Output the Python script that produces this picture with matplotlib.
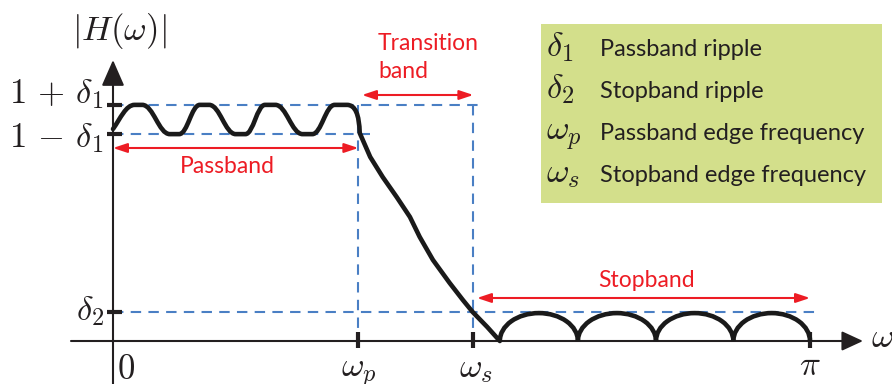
import numpy as np
import matplotlib.pyplot as plt
from matplotlib.path import Path
from matplotlib.patches import PathPatch, Arc, Rectangle

plt.rcParams['mathtext.fontset'] = 'cm'
plt.rcParams['font.family'] = ['Lato', 'DejaVu Sans']

# specs (frequency in units of pi, magnitude)
delta1 = 0.066
delta2 = 0.133
w_p = 0.352
w_s = 0.517

# passband ripple: ends of the flat tops / bottoms
pass_w = [0.0, 0.031, 0.042, 0.0815, 0.095, 0.1245, 0.138, 0.176, 0.190,
          0.218, 0.233, 0.272, 0.286, 0.318, 0.336]
pass_h = [0.957, 1.066, 1.066, 0.934, 0.934, 1.066, 1.066, 0.934, 0.934,
          1.066, 1.066, 0.934, 0.934, 1.066, 1.066]

# transition band
trans_w = [0.354, 0.369, 0.387, 0.407, 0.426, 0.440, 0.459, 0.483,
           0.502, 0.516, 0.537, 0.555]
trans_h = [0.939, 0.831, 0.740, 0.650, 0.560, 0.470, 0.366, 0.262,
           0.185, 0.131, 0.063, 0.0]

# stopband lobes
stop_zeros = [0.555, 0.667, 0.779, 0.890, 1.0]
stop_peak = 0.126

legend_sym = [r'$\delta_1$', r'$\delta_2$', r'$\omega_p$', r'$\omega_s$']
legend_txt = ['Passband ripple', 'Stopband ripple',
              'Passband edge frequency', 'Stopband edge frequency']

# pixel -> data helpers for placing labels
X0, XS = 113, 697
Y0, YS = 341, 221.5
def px(x):
    return (x - X0) / XS
def py(y):
    return (Y0 - y) / YS

black = '#231f20'
blue = '#4a7fc4'
red = '#ed1c24'

fig = plt.figure(figsize=(8.92, 3.84), dpi=100)
ax = fig.add_axes([0, 0, 1, 1])
ax.set_xlim(px(0), px(892))
ax.set_ylim(py(384), py(0))
ax.axis('off')

# dashed guide lines
dash = dict(color=blue, lw=1.5, ls=(0, (5, 3.5)), zorder=1)
ax.plot([0, px(483)], [1 + delta1, 1 + delta1], **dash)
ax.plot([0, px(370)], [1 - delta1, 1 - delta1], **dash)
ax.plot([0, px(820)], [delta2, delta2], **dash)
ax.plot([w_p, w_p], [1 + delta1, py(352)], **dash)
ax.plot([w_s, w_s], [1 + delta1, py(352)], **dash)

# axes with arrows
ax.annotate('', xy=(0, py(60)), xytext=(0, py(384)),
            arrowprops=dict(arrowstyle='-|>,head_length=0.8,head_width=0.35',
                            lw=1.5, color=black, shrinkA=0, shrinkB=0,
                            mutation_scale=20), zorder=2)
ax.annotate('', xy=(px(863), 0), xytext=(px(71), 0),
            arrowprops=dict(arrowstyle='-|>,head_length=0.65,head_width=0.3',
                            lw=1.5, color=black, shrinkA=0, shrinkB=0,
                            mutation_scale=20), zorder=2)

# tick bars
for yv in [1 + delta1, 1 - delta1, delta2]:
    ax.plot([px(107), px(122)], [yv, yv], color=black, lw=3, zorder=3,
            solid_capstyle='butt')
for xv in [w_p, w_s, 1.0]:
    ax.plot([xv, xv], [py(332), py(348)], color=black, lw=3, zorder=3,
            solid_capstyle='butt')

# response curve: passband (smooth steps) + transition
verts = [(pass_w[0], pass_h[0])]
codes = [Path.MOVETO]
for i in range(1, len(pass_w)):
    x0, y0 = pass_w[i - 1], pass_h[i - 1]
    x1, y1 = pass_w[i], pass_h[i]
    if y0 == y1:
        verts.append((x1, y1))
        codes.append(Path.LINETO)
    else:
        dx = x1 - x0
        if i == 1:
            c1 = (x0 + dx * 0.35, y0 + (y1 - y0) * 0.45)
        else:
            c1 = (x0 + dx * 0.4, y0)
        c2 = (x1 - dx * 0.4, y1)
        verts += [c1, c2, (x1, y1)]
        codes += [Path.CURVE4] * 3
# round shoulder into the transition band
verts += [(pass_w[-1] + 0.017, pass_h[-1]), (trans_w[0], trans_h[0])]
codes += [Path.CURVE3] * 2
for xv, yv in zip(trans_w[1:], trans_h[1:]):
    verts.append((xv, yv))
    codes.append(Path.LINETO)
ax.add_patch(PathPatch(Path(verts, codes), fill=False, lw=3.3, ec='#1a1a1a',
                       joinstyle='round', capstyle='round', zorder=4))

for z0, z1 in zip(stop_zeros[:-1], stop_zeros[1:]):
    ax.add_patch(Arc(((z0 + z1) / 2, 0), z1 - z0, 2 * stop_peak,
                     theta1=0, theta2=180, lw=3.3, color='#1a1a1a', zorder=4))

# red band arrows
def band_arrow(xa, xb, yv):
    ax.annotate('', xy=(xb, yv), xytext=(xa, yv),
                arrowprops=dict(arrowstyle='<|-|>,head_length=0.6,head_width=0.2',
                                lw=1.5, color=red, shrinkA=0, shrinkB=0,
                                mutation_scale=14), zorder=5)

band_arrow(0, w_p, py(148))
band_arrow(px(362), w_s, py(95))
band_arrow(px(477), 1.0, py(298))

fs_txt = 16.5
ax.text(px(227), py(173), 'Passband', color=red, fontsize=fs_txt,
        ha='center', va='baseline')
ax.text(px(378), py(50), 'Transition', color=red, fontsize=fs_txt,
        ha='left', va='baseline')
ax.text(px(378), py(78), 'band', color=red, fontsize=fs_txt,
        ha='left', va='baseline')
ax.text(px(647), py(287), 'Stopband', color=red, fontsize=fs_txt,
        ha='center', va='baseline')

# math labels
fs_m = 25
ax.text(px(72), py(31), r'$|H(\omega)|$', fontsize=fs_m, color=black,
        ha='left', va='center')
ax.text(px(103), py(103), r'$1\,+\,\delta_1$', fontsize=fs_m, color=black,
        ha='right', va='baseline')
ax.text(px(103), py(147), r'$1\,-\,\delta_1$', fontsize=fs_m, color=black,
        ha='right', va='baseline')
ax.text(px(104), py(320), r'$\delta_2$', fontsize=fs_m, color=black,
        ha='right', va='baseline')
ax.text(px(117), py(379), r'$0$', fontsize=fs_m, color=black,
        ha='left', va='baseline')
ax.text(w_p, py(377), r'$\omega_p$', fontsize=fs_m, color=black,
        ha='center', va='baseline')
ax.text(w_s + 0.004, py(377), r'$\omega_s$', fontsize=fs_m, color=black,
        ha='center', va='baseline')
ax.text(1.0, py(375), r'$\pi$', fontsize=fs_m, color=black,
        ha='center', va='baseline')
ax.text(px(871), py(347), r'$\omega$', fontsize=fs_m, color=black,
        ha='left', va='baseline')

# legend box
ax.add_patch(Rectangle((px(541), py(203)), px(882) - px(541),
                       py(24) - py(203), fc='#d3df8b', ec='none', zorder=0))
for i, (s, t) in enumerate(zip(legend_sym, legend_txt)):
    base = 56 + 42 * i
    ax.text(px(546), py(base), s, fontsize=fs_m, color=black,
            ha='left', va='baseline')
    ax.text(px(600), py(base), t, fontsize=17, color=black,
            ha='left', va='baseline')

fig.savefig('out.png', dpi=100)
